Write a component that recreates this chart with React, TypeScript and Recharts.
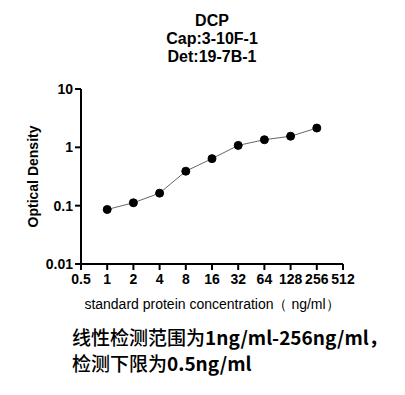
import React from "react";
import { LineChart, Line, XAxis, YAxis } from "recharts";

// standard curve readings
const concentrations = [1, 2, 4, 8, 16, 32, 64, 128, 256];
const densities = [0.086, 0.112, 0.164, 0.39, 0.64, 1.08, 1.35, 1.55, 2.14];

const xTicks = [0.5, 1, 2, 4, 8, 16, 32, 64, 128, 256, 512];
const yTicks = [0.01, 0.1, 1, 10];

const titleLines = ["DCP", "Cap:3-10F-1", "Det:19-7B-1"];
const noteLines = ["线性检测范围为1ng/ml-256ng/ml，", "检测下限为0.5ng/ml"];

const data = concentrations.map((c, i) => ({ x: c, y: densities[i] }));

const sans = "'Liberation Sans', Arial, sans-serif";

// chinese runs a bit lighter than the latin bits
const renderNote = (line: string) =>
  line.split(/([\u4e00-\u9fff，]+)/).filter(Boolean).map((run, i) => (
    <span key={i} style={{ fontWeight: /[\u4e00-\u9fff]/.test(run) ? 500 : "bold" }}>
      {run}
    </span>
  ));

const App = () => {
  return (
    <div
      style={{
        position: "absolute",
        left: 0,
        top: 0,
        width: 405,
        height: 395,
        background: "#fff",
        fontFamily: sans,
      }}
    >
      <div
        style={{
          position: "absolute",
          left: 0,
          top: 12,
          width: 424,
          textAlign: "center",
          fontWeight: "bold",
          fontSize: 16,
          lineHeight: "18px",
        }}
      >
        {titleLines.map((t) => (
          <div key={t}>{t}</div>
        ))}
      </div>
      <LineChart
        width={405}
        height={395}
        data={data}
        margin={{ top: 89, right: 62, left: 21, bottom: 86 }}
      >
        <XAxis
          dataKey="x"
          type="number"
          scale="log"
          domain={[0.5, 512]}
          ticks={xTicks}
          allowDataOverflow
          height={45}
          stroke="#000"
          strokeWidth={2}
          tickSize={6}
          tickMargin={4}
          tick={{ fill: "#000", fontSize: 14, fontWeight: "bold", fontFamily: sans }}
          label={{
            value: "standard protein concentration（ ng/ml）",
            position: "insideBottom",
            offset: 0,
            fill: "#000",
            fontSize: 14,
            fontFamily: sans,
          }}
        />
        <YAxis
          dataKey="y"
          type="number"
          scale="log"
          domain={[0.01, 10]}
          ticks={yTicks}
          allowDataOverflow
          width={60}
          stroke="#000"
          strokeWidth={2}
          tickSize={6}
          tickMargin={2}
          tick={{ fill: "#000", fontSize: 14, fontWeight: "bold", fontFamily: sans }}
          label={{
            value: "Optical Density",
            angle: -90,
            position: "insideLeft",
            offset: 12,
            style: { textAnchor: "middle" },
            fill: "#000",
            fontSize: 14,
            fontWeight: "bold",
            fontFamily: sans,
          }}
        />
        <Line
          dataKey="y"
          stroke="#666"
          strokeWidth={1}
          dot={{ r: 4, fill: "#000", stroke: "#000", strokeWidth: 1 }}
          isAnimationActive={false}
        />
      </LineChart>
      <div
        style={{
          position: "absolute",
          left: 72,
          top: 324,
          fontFamily: "'Noto Sans CJK SC', sans-serif",
          fontSize: 19,
          lineHeight: "26px",
          color: "#000",
          whiteSpace: "nowrap",
        }}
      >
        {noteLines.map((t) => (
          <div key={t}>{renderNote(t)}</div>
        ))}
      </div>
    </div>
  );
};

export default App;
